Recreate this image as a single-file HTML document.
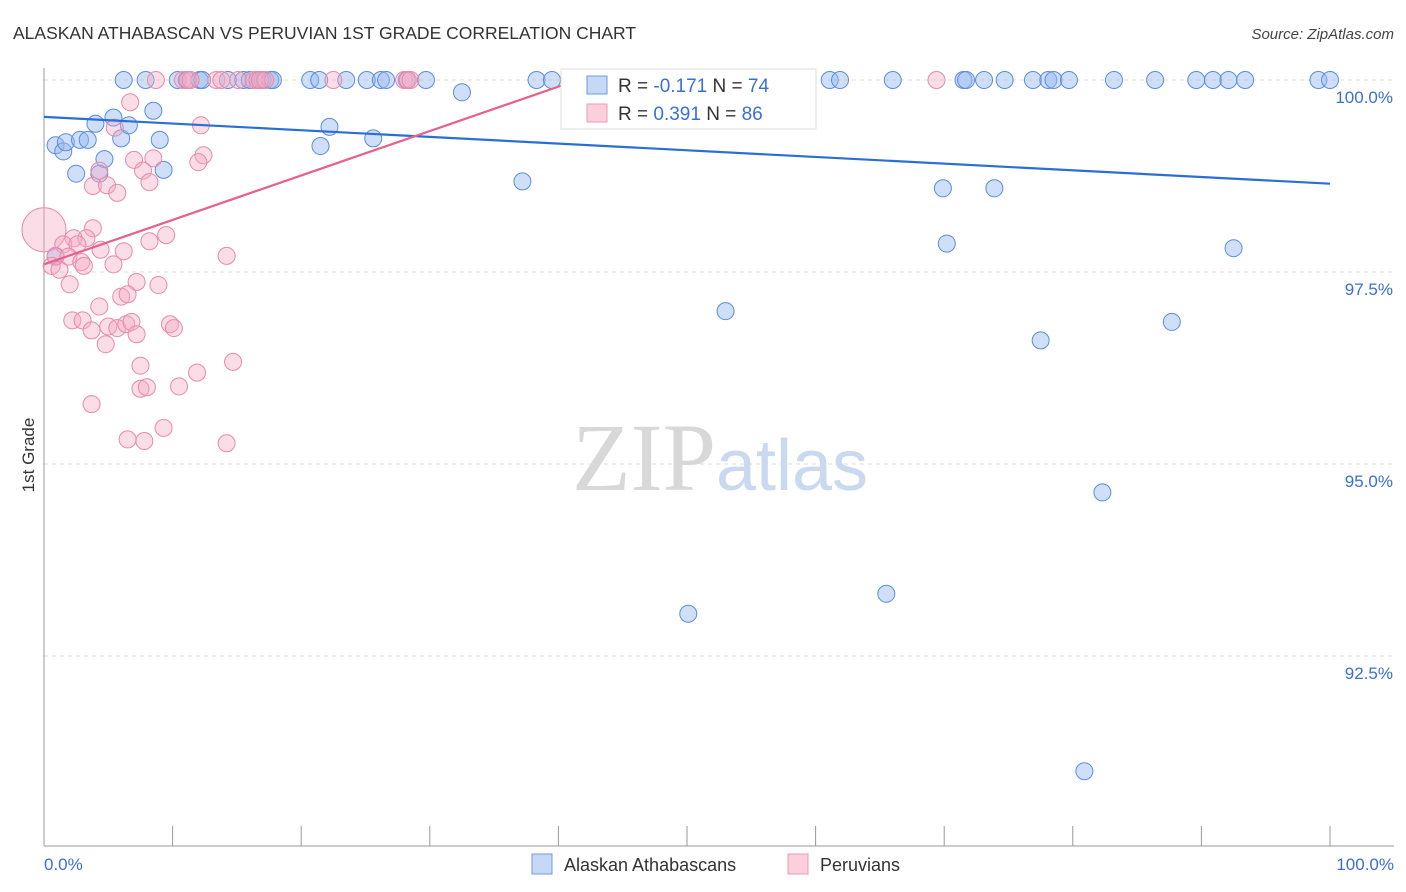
<!DOCTYPE html>
<html><head><meta charset="utf-8"><style>
body{margin:0;background:#fff;font-family:"Liberation Sans",sans-serif;}
svg{display:block}
</style></head><body>
<svg width="1406" height="892" viewBox="0 0 1406 892">
<text x="13" y="39" font-size="17.5" fill="#333">ALASKAN ATHABASCAN VS PERUVIAN 1ST GRADE CORRELATION CHART</text>
<text x="1394" y="39" font-size="15" fill="#444" font-style="italic" text-anchor="end">Source: ZipAtlas.com</text>
<g id="grid"></g>
<text x="720" y="490" font-size="96" fill="#ddd" text-anchor="middle" font-family="Liberation Serif,serif"><tspan fill="#d8d8d8">ZIP</tspan><tspan fill="#c9d9f0" font-family="Liberation Sans,sans-serif" font-size="72">atlas</tspan></text>
<line x1="44" y1="68" x2="44" y2="846" stroke="#999"/>
<line x1="44" y1="846" x2="1394" y2="846" stroke="#999"/>
<text x="34" y="455" font-size="17" fill="#333" text-anchor="middle" transform="rotate(-90 34 455)">1st Grade</text>
<text x="44" y="870" font-size="17" fill="#3a6fd8">0.0%</text>
<text x="1394" y="870" font-size="17" fill="#3a6fd8" text-anchor="end">100.0%</text>
<g id="pts"></g>
<g id="lines"></g>
<g>
<rect x="561" y="69" width="255" height="60" fill="#fff" stroke="#ddd"/>
<rect x="587" y="76" width="20" height="18" fill="#c5d8f5" stroke="#6c9be0"/>
<rect x="587" y="104" width="20" height="18" fill="#fbd0dc" stroke="#ee9ab5"/>
<text x="618" y="92" font-size="19" fill="#333">R = <tspan fill="#3a6fd8">-0.171</tspan>   N = <tspan fill="#3a6fd8">74</tspan></text>
<text x="618" y="120" font-size="19" fill="#333">R = <tspan fill="#3a6fd8"> 0.391</tspan>   N = <tspan fill="#3a6fd8">86</tspan></text>
</g>
<g>
<rect x="532" y="854" width="20" height="20" fill="#c5d8f5" stroke="#6c9be0"/>
<text x="564" y="871" font-size="18" fill="#333">Alaskan Athabascans</text>
<rect x="788" y="854" width="20" height="20" fill="#fbd0dc" stroke="#ee9ab5"/>
<text x="820" y="871" font-size="18" fill="#333">Peruvians</text>
</g>
</svg>
<script>
const yTicks=[100,97.5,95,92.5];
const yTickLabels=["100.0%","97.5%","95.0%","92.5%"];
const xTicks=[10,20,30,40,50,60,70,80,90,100];
const blueX=[6.2,7.9,10.4,11.1,12.1,12.3,14.3,15.5,16.0,16.6,17.0,17.6,17.8,20.7,21.4,23.5,25.1,26.2,26.6,28.2,29.7,38.3,39.5,41.3,58.8,61.1,61.9,66.0,71.5,71.7,73.1,74.7,76.9,78.1,78.5,79.7,83.2,86.4,89.6,90.9,92.1,93.4,99.1,100,
32.5,0.9,1.5,1.7,2.5,2.8,3.4,4.0,4.7,4.3,5.4,6.0,6.6,8.5,9.0,9.3,21.5,22.2,25.6,37.2,69.9,73.9,70.2,92.5,53.0,87.7,77.5,82.3,50.1,65.5,80.9,0.9];
const blueY=[100,100,100,100,100,100,100,100,100,100,100,100,100,100,100,100,100,100,100,100,100,100,100,100,100,100,100,100,100,100,100,100,100,100,100,100,100,100,100,100,100,100,100,100,
99.84,99.15,99.07,99.19,98.78,99.22,99.22,99.43,98.97,98.78,99.51,99.24,99.41,99.60,99.22,98.83,99.14,99.39,99.24,98.68,98.59,98.59,97.87,97.81,96.99,96.85,96.61,94.63,93.05,93.31,91.0,97.7];
const pinkX=[8.7,10.8,11.2,11.4,13.4,13.8,15.1,16.3,16.6,16.8,17.2,22.5,28.0,28.3,28.5,69.4,
6.7,12.2,5.5,8.5,7.0,12.4,12.0,7.7,4.3,8.2,3.8,4.9,5.7,0,3.8,9.5,8.2,2.3,3.3,1.5,2.6,4.4,6.2,0.9,1.9,2.9,0.6,1.2,3.1,5.4,14.2,7.2,8.9,2.0,4.3,6.0,6.5,2.2,3.0,3.7,5.0,5.7,6.4,6.8,9.8,10.1,7.2,4.8,7.5,14.7,11.9,7.5,8.0,10.5,3.7,6.5,7.8,9.3,14.2];
const pinkY=[100,100,100,100,100,100,100,100,100,100,100,100,100,100,100,100,
99.71,99.41,99.38,98.98,98.96,99.02,98.93,98.82,98.82,98.67,98.62,98.63,98.53,98.05,98.07,97.98,97.90,97.94,97.94,97.86,97.86,97.79,97.77,97.71,97.70,97.63,97.58,97.53,97.58,97.60,97.71,97.37,97.33,97.34,97.05,97.18,97.21,96.87,96.87,96.74,96.79,96.77,96.82,96.85,96.82,96.77,96.69,96.56,96.28,96.33,96.19,95.98,96.0,96.01,95.78,95.32,95.30,95.47,95.27];
const blueTrend=[[0,99.52],[100,98.65]];
const pinkTrend=[[0,97.6],[41.5,100]];
const NS="http://www.w3.org/2000/svg";
const xs=v=>44+v*12.86, ys=v=>80+(100-v)*76.8;
function mk(t,a,p){const e=document.createElementNS(NS,t);for(const k in a)e.setAttribute(k,a[k]);p.appendChild(e);return e;}
const grid=document.getElementById('grid');
yTicks.forEach((t,i)=>{
 const l=mk('line',{x1:44,x2:1394,y1:ys(t),y2:ys(t),stroke:'#ddd','stroke-dasharray':'4,4'},grid);
 
 
 const tx=mk('text',{x:1393,y:ys(t)+23,'font-size':17,fill:'#3a6fd8','text-anchor':'end'},grid);
 tx.textContent=yTickLabels[i];
 
 
});
xTicks.forEach(t=>{
 const l=mk('line',{x1:xs(t),x2:xs(t),y1:826,y2:846,stroke:'#999'},grid);
 
 
});
const pts=document.getElementById('pts');
blueX.forEach((x,i)=>{
 const c=mk('circle',{cx:xs(x),cy:ys(blueY[i]),r:8.5,fill:'rgba(150,185,240,0.45)',stroke:'#5a8ddd','stroke-width':1},pts);
 
 
});
pinkX.forEach((x,i)=>{
 const c=mk('circle',{cx:xs(x),cy:ys(pinkY[i]),r:(i==29?22:8.5),fill:'rgba(245,170,195,0.4)',stroke:'#e88aa8','stroke-width':1},pts);
 
 
});
const lines=document.getElementById('lines');
const bl=mk('line',{x1:xs(blueTrend[0][0]),y1:ys(blueTrend[0][1]),x2:xs(blueTrend[1][0]),y2:ys(blueTrend[1][1]),stroke:'#2a6fd6','stroke-width':2.2},lines);


const pl=mk('line',{x1:xs(pinkTrend[0][0]),y1:ys(pinkTrend[0][1]),x2:xs(pinkTrend[1][0]),y2:ys(pinkTrend[1][1]),stroke:'#e8608c','stroke-width':2.2},lines);


</script>
</body></html>
